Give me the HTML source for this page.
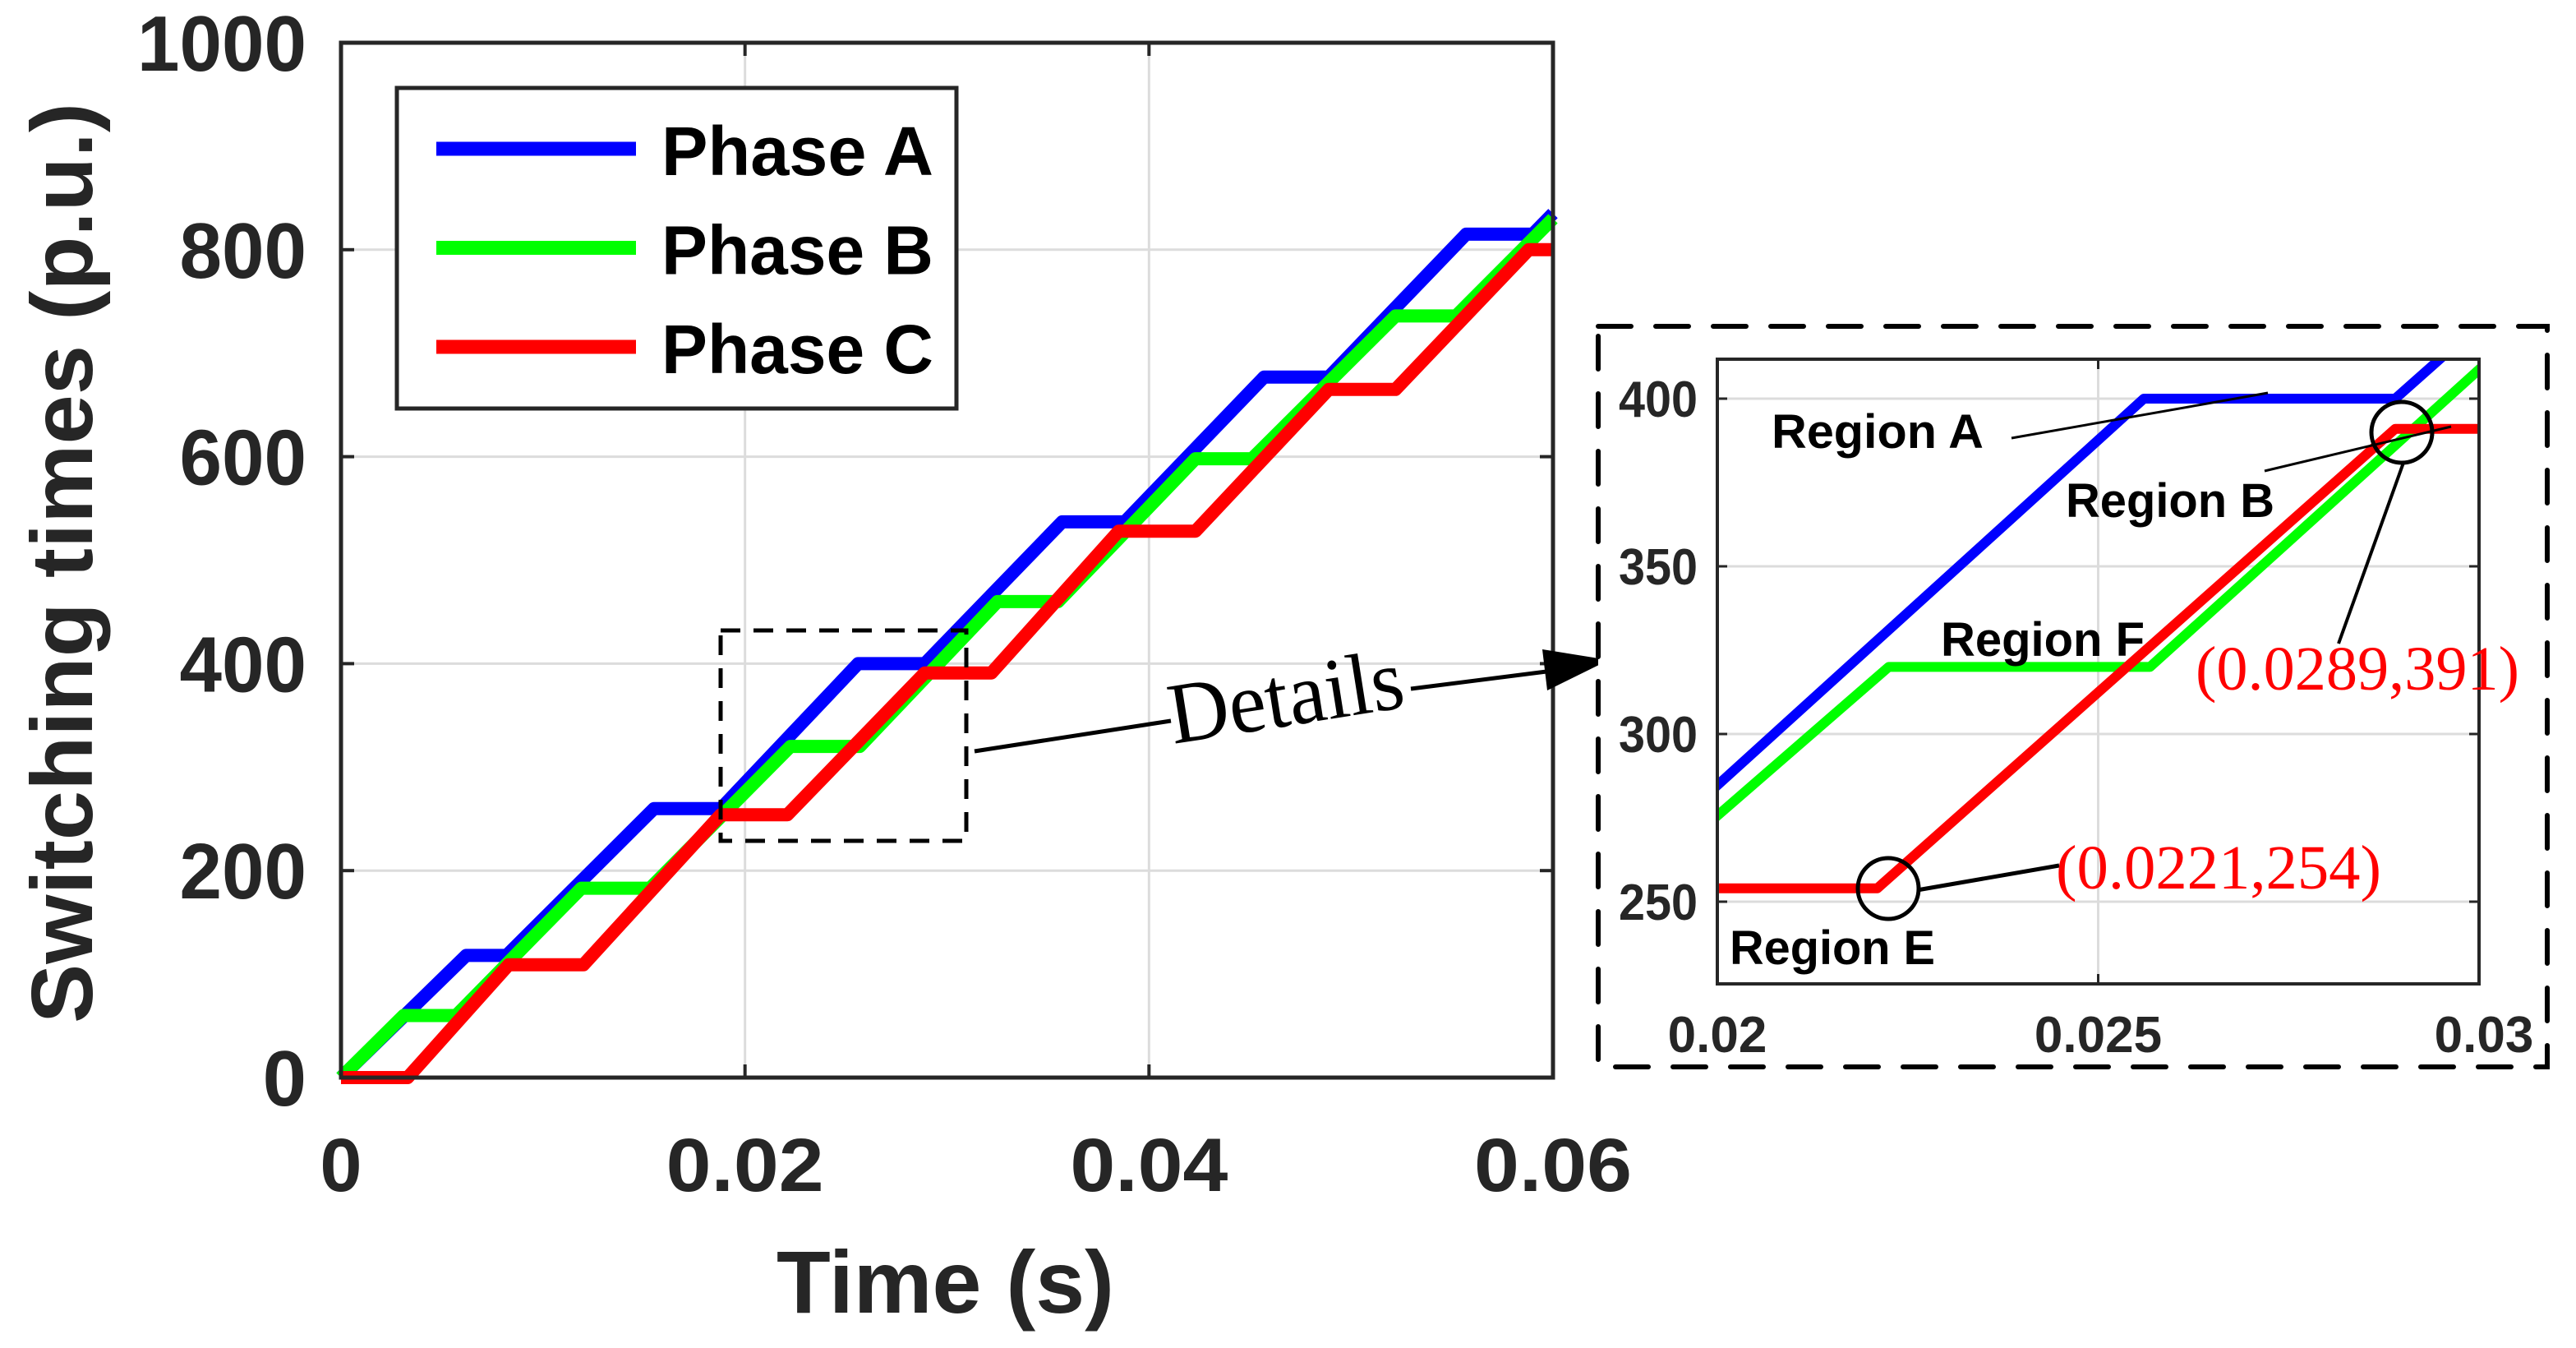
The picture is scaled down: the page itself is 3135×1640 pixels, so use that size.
<!DOCTYPE html>
<html><head><meta charset="utf-8">
<style>html,body{margin:0;padding:0;background:#fff;overflow:hidden;width:3135px;height:1640px;}svg{display:block;}</style>
</head><body>
<svg id="chart" width="3135" height="1640" viewBox="0 0 3135 1640" xmlns="http://www.w3.org/2000/svg">
<g id="main"></g>
<g id="inset"></g>
</svg>
<script>
// Series vertices (time in s, switching times in p.u.)
const timeA = [0, 0.0062, 0.0082, 0.0155, 0.0188, 0.0256, 0.0289, 0.0357, 0.0388, 0.0457, 0.0489, 0.0557, 0.0590, 0.0600];
const valA  = [0, 118, 118, 260, 260, 400, 400, 537, 537, 677, 677, 815, 815, 835];
const timeB = [0, 0.0031, 0.0057, 0.0119, 0.0153, 0.02225, 0.02568, 0.0325, 0.0355, 0.0423, 0.0451, 0.0522, 0.0552, 0.0600];
const valB  = [0, 60, 60, 183, 183, 320, 320, 460, 460, 598, 598, 736, 736, 830];
const timeC = [0, 0.0033, 0.0083, 0.0120, 0.0188, 0.0221, 0.0289, 0.0322, 0.0385, 0.0423, 0.0489, 0.0522, 0.0588, 0.0600];
const valC  = [0, 0, 109, 109, 254, 254, 391, 391, 528, 528, 665, 665, 800, 800];
const mainXTicks = [0, 0.02, 0.04, 0.06];
const mainXTickLabels = ["0", "0.02", "0.04", "0.06"];
const mainYTicks = [0, 200, 400, 600, 800, 1000];
const insetXTicks = [0.02, 0.025, 0.03];
const insetXTickLabels = ["0.02", "0.025", "0.03"];
const insetYTicks = [250, 300, 350, 400];
const legendLabels = ["Phase A", "Phase B", "Phase C"];

const NS = "http://www.w3.org/2000/svg";
function mk(parent, tag, attrs, text) {
  const e = document.createElementNS(NS, tag);
  for (const k in attrs) e.setAttribute(k, attrs[k]);
  if (text !== undefined) e.textContent = text;
  parent.appendChild(e);
  return e;
}
const colors = ["#0000ff", "#00ff00", "#ff0000"];
const series = [[timeA, valA], [timeB, valB], [timeC, valC]];
const names = ["phase-a", "phase-b", "phase-c"];
const AX = "#262626";
const SANS = "'Liberation Sans', Arial, sans-serif";
const SERIF = "'Liberation Serif', 'Times New Roman', serif";

// ---------- MAIN ----------
const main = document.getElementById("main");
const M = {l: 415, r: 1890, t: 52, b: 1311, x0: 0, x1: 0.06, y0: 0, y1: 1000};
const mx = v => M.l + (v - M.x0) / (M.x1 - M.x0) * (M.r - M.l);
const my = v => M.b - (v - M.y0) / (M.y1 - M.y0) * (M.b - M.t);

mk(main, "rect", {x: M.l, y: M.t, width: M.r - M.l, height: M.b - M.t, fill: "#fff"});
mainXTicks.forEach((t, i) => {
  let g = mk(main, "line", {x1: mx(t), x2: mx(t), y1: M.t, y2: M.b, stroke: "#dcdcdc", "stroke-width": 3});
  
  
  mk(main, "line", {x1: mx(t), x2: mx(t), y1: M.b, y2: M.b - 16, stroke: AX, "stroke-width": 4});
  mk(main, "line", {x1: mx(t), x2: mx(t), y1: M.t, y2: M.t + 16, stroke: AX, "stroke-width": 4});
  const lab = mainXTickLabels[i];
  const attrs = {x: mx(t), y: 1449, "text-anchor": "middle", "font-family": SANS, "font-weight": "bold", "font-size": 92, fill: AX};
  if (lab.length > 1) { attrs.textLength = 192; attrs.lengthAdjust = "spacingAndGlyphs"; }
  let lb = mk(main, "text", attrs, lab);
  
  
});
mainYTicks.forEach(v => {
  let g = mk(main, "line", {x1: M.l, x2: M.r, y1: my(v), y2: my(v), stroke: "#dcdcdc", "stroke-width": 3});
  
  
  mk(main, "line", {x1: M.l, x2: M.l + 16, y1: my(v), y2: my(v), stroke: AX, "stroke-width": 4});
  mk(main, "line", {x1: M.r, x2: M.r - 16, y1: my(v), y2: my(v), stroke: AX, "stroke-width": 4});
  const s = String(v);
  const attrs = {x: 373, y: my(v) + 34, "text-anchor": "end", "font-family": SANS, "font-weight": "bold", "font-size": 96, fill: AX};
  if (s.length > 1) { attrs.textLength = s.length * 51.5; attrs.lengthAdjust = "spacingAndGlyphs"; }
  let lb = mk(main, "text", attrs, s);
  
  
});
series.forEach((s, i) => {
  const pts = s[0].map((t, j) => mx(t).toFixed(1) + "," + my(s[1][j]).toFixed(1)).join(" ");
  let p = mk(main, "polyline", {points: pts, fill: "none", stroke: colors[i], "stroke-width": 16, "stroke-linejoin": "round"});
  
  
});
mk(main, "rect", {x: M.l, y: M.t, width: M.r - M.l, height: M.b - M.t, fill: "none", stroke: AX, "stroke-width": 5});

// axis titles
let xt = mk(main, "text", {x: 945, y: 1597, "font-family": SANS, "font-weight": "bold", "font-size": 108, fill: AX, textLength: 411, lengthAdjust: "spacingAndGlyphs"}, "Time (s)");


let yt = mk(main, "text", {x: 0, y: 0, transform: "translate(112,1245) rotate(-90)", "font-family": SANS, "font-weight": "bold", "font-size": 106, fill: AX, textLength: 1120, lengthAdjust: "spacingAndGlyphs"}, "Switching times (p.u.)");



// legend
const leg = mk(main, "g", {});


mk(leg, "rect", {x: 483, y: 107, width: 681, height: 390, fill: "#fff", stroke: AX, "stroke-width": 5});
legendLabels.forEach((lab, i) => {
  const y = 181 + i * 120.5;
  const e = mk(leg, "g", {});
  
  
  mk(e, "line", {x1: 531, x2: 774, y1: y, y2: y, stroke: colors[i], "stroke-width": 17});
  mk(e, "text", {x: 805, y: y + 32, "font-family": SANS, "font-weight": "bold", "font-size": 84, fill: "#000", textLength: 331, lengthAdjust: "spacingAndGlyphs"}, lab);
});

// details box & arrow
const det = mk(main, "g", {});


mk(det, "rect", {x: 877, y: 767, width: 299, height: 256, fill: "none", stroke: "#000", "stroke-width": 5, "stroke-dasharray": "24,16"});
mk(det, "line", {x1: 1186, y1: 914, x2: 1425, y2: 877, stroke: "#000", "stroke-width": 5});
mk(det, "line", {x1: 1717, y1: 838, x2: 1890, y2: 816, stroke: "#000", "stroke-width": 5});
mk(det, "polygon", {points: "1958,803 1877,790 1883,840", fill: "#000"});
mk(det, "text", {x: 0, y: 0, transform: "translate(1428,905) rotate(-9)", "font-family": SERIF, "font-size": 106, fill: "#000", textLength: 288, lengthAdjust: "spacingAndGlyphs"}, "Details");

// ---------- INSET ----------
const ins = document.getElementById("inset");
const I = {l: 2090, r: 3017, t: 437, b: 1197, x0: 0.02, x1: 0.03};
const iyPer = (689 - 485) / 50;
const ix = v => I.l + (v - I.x0) / (I.x1 - I.x0) * (I.r - I.l);
const iy = v => 485 + (400 - v) * iyPer;

mk(ins, "rect", {x: 1945, y: 397, width: 1155, height: 901, fill: "#fff", stroke: "#000", "stroke-width": 6, "stroke-dasharray": "40,30", "stroke-linecap": "round"});
mk(ins, "defs", {}).innerHTML = '<clipPath id="ic"><rect x="2090" y="437" width="927" height="760"/></clipPath>';
insetXTicks.forEach((t, i) => {
  mk(ins, "line", {x1: ix(t), x2: ix(t), y1: I.t, y2: I.b, stroke: "#dcdcdc", "stroke-width": 3});
  mk(ins, "line", {x1: ix(t), x2: ix(t), y1: I.b, y2: I.b - 12, stroke: AX, "stroke-width": 3});
  mk(ins, "line", {x1: ix(t), x2: ix(t), y1: I.t, y2: I.t + 12, stroke: AX, "stroke-width": 3});
  let lb = mk(ins, "text", {x: ix(t) + (i === 2 ? 6 : 0), y: 1280, "text-anchor": "middle", "font-family": SANS, "font-weight": "bold", "font-size": 62, fill: AX}, insetXTickLabels[i]);
  
  
});
insetYTicks.forEach(v => {
  mk(ins, "line", {x1: I.l, x2: I.r, y1: iy(v), y2: iy(v), stroke: "#dcdcdc", "stroke-width": 3});
  mk(ins, "line", {x1: I.l, x2: I.l + 12, y1: iy(v), y2: iy(v), stroke: AX, "stroke-width": 3});
  mk(ins, "line", {x1: I.r, x2: I.r - 12, y1: iy(v), y2: iy(v), stroke: AX, "stroke-width": 3});
  let lb = mk(ins, "text", {x: 2066, y: iy(v) + 22, "text-anchor": "end", "font-family": SANS, "font-weight": "bold", "font-size": 62, fill: AX, textLength: 96, lengthAdjust: "spacingAndGlyphs"}, String(v));
  
  
});
const ig = mk(ins, "g", {"clip-path": "url(#ic)"});
series.forEach((s, i) => {
  const pts = s[0].map((t, j) => ix(t).toFixed(1) + "," + iy(s[1][j]).toFixed(1)).join(" ");
  let p = mk(ig, "polyline", {points: pts, fill: "none", stroke: colors[i], "stroke-width": 12, "stroke-linejoin": "round"});
  
  
});
mk(ins, "rect", {x: I.l, y: I.t, width: I.r - I.l, height: I.b - I.t, fill: "none", stroke: AX, "stroke-width": 4});

// annotations
const an = mk(ins, "g", {});


function lbl(x, y, w, t) {
  mk(an, "text", {x: x, y: y, "font-family": SANS, "font-weight": "bold", "font-size": 58, fill: "#000", textLength: w, lengthAdjust: "spacingAndGlyphs"}, t);
}
lbl(2156, 545, 258, "Region A");
lbl(2514, 629, 254, "Region B");
lbl(2362, 798, 248, "Region F");
lbl(2105, 1173, 250, "Region E");
mk(an, "line", {x1: 2448, y1: 533, x2: 2760, y2: 478, stroke: "#000", "stroke-width": 3});
mk(an, "line", {x1: 2756, y1: 573, x2: 2983, y2: 519, stroke: "#000", "stroke-width": 3});
mk(an, "ellipse", {cx: 2923, cy: 526, rx: 37, ry: 37, fill: "none", stroke: "#000", "stroke-width": 5});
mk(an, "line", {x1: 2925, y1: 563, x2: 2846, y2: 783, stroke: "#000", "stroke-width": 4});
mk(an, "ellipse", {cx: 2298, cy: 1081, rx: 37, ry: 37, fill: "none", stroke: "#000", "stroke-width": 5});
mk(an, "line", {x1: 2333, y1: 1083, x2: 2506, y2: 1053, stroke: "#000", "stroke-width": 5});
mk(an, "text", {x: 2672, y: 839, "font-family": SERIF, "font-size": 76, fill: "#ff0000", textLength: 394, lengthAdjust: "spacingAndGlyphs"}, "(0.0289,391)");
mk(an, "text", {x: 2502, y: 1081, "font-family": SERIF, "font-size": 76, fill: "#ff0000", textLength: 396, lengthAdjust: "spacingAndGlyphs"}, "(0.0221,254)");
</script>
</body></html>
